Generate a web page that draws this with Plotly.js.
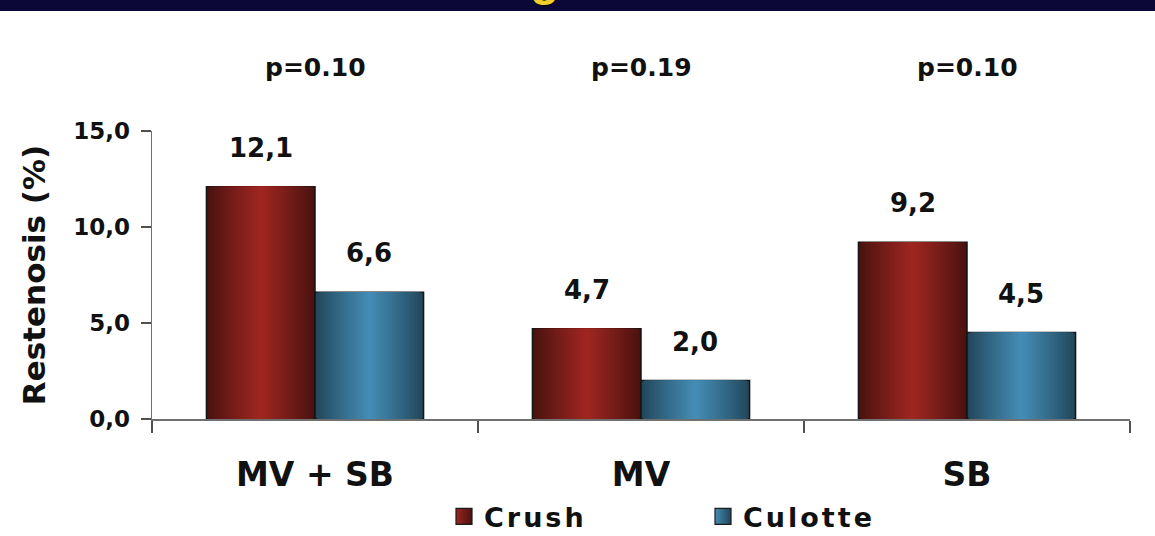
<!DOCTYPE html>
<html>
<head>
<meta charset="utf-8">
<script src="https://cdn.plot.ly/plotly-3.0.1.min.js"></script>
<style>
  html, body { margin: 0; padding: 0; background: #ffffff; }
  #chart { width: 1155px; height: 536px; }
  #chart .legendtext { letter-spacing: 3px; }
</style>
</head>
<body>
<div id="chart"></div>
<script>
// Restenosis rates by lesion segment, crush vs culotte technique
const categories = ['MV + SB', 'MV', 'SB'];
const crushValues = [12.1, 4.7, 9.2];
const culotteValues = [6.6, 2.0, 4.5];
const pValueLabels = ['p=0.10', 'p=0.19', 'p=0.10'];
const seriesNames = ['Crush', 'Culotte'];

// Styling: each bar is built from stacked, narrowing layers to give a
// horizontal cylinder-like shading (dark edges, bright centre).
const BAR_W = 0.333;           // bar width in category units
const LAYERS = 26;
const FONT = 'DejaVu Sans';
const shading = [
  { edge: [72, 18, 15], mid: [158, 38, 33] },   // crush
  { edge: [34, 70, 90], mid: [68, 140, 180] }   // culotte
];

function mix(a, b, t) {
  return 'rgb(' + a.map((v, i) => Math.round(v + (b[i] - v) * t)).join(',') + ')';
}

const seriesValues = [crushValues, culotteValues];
const baseOffsets = [-BAR_W, 0];
const traces = [];

seriesValues.forEach((vals, s) => {
  for (let k = 0; k < LAYERS; k++) {
    const frac = 1 - k / LAYERS;
    const w = BAR_W * frac;
    const t = Math.pow(k / (LAYERS - 1), 0.9);
    traces.push({
      type: 'bar',
      x: categories,
      y: vals,
      width: w,
      offset: baseOffsets[s] + (BAR_W - w) / 2,
      marker: {
        color: mix(shading[s].edge, shading[s].mid, t),
        line: { width: k === 0 ? 1.5 : 0, color: '#151515' }
      },
      showlegend: false,
      hoverinfo: 'skip'
    });
  }
});

// Legend entries
seriesNames.forEach((name, s) => {
  traces.push({
    type: 'scatter',
    mode: 'markers',
    x: [categories[0]],
    y: [null],
    name: name,
    marker: {
      symbol: 'square',
      size: 18,
      color: mix(shading[s].edge, shading[s].mid, 1),
      gradient: { type: 'horizontal', color: mix(shading[s].edge, shading[s].mid, 0) },
      line: { color: '#1b1b1b', width: 1.2 }
    },
    hoverinfo: 'skip'
  });
});

const fmt = v => v.toFixed(1).replace('.', ',');
const annotations = [];

// value labels above each bar
seriesValues.forEach((vals, s) => {
  vals.forEach((v, i) => {
    annotations.push({
      x: i + baseOffsets[s] + BAR_W / 2,
      y: v,
      xref: 'x', yref: 'y',
      text: fmt(v),
      showarrow: false,
      yanchor: 'bottom',
      yshift: 22,
      font: { family: FONT, size: 26, weight: 'bold', color: '#111111' }
    });
  });
});

// p-values over each group
pValueLabels.forEach((p, i) => {
  annotations.push({
    x: i, y: 1.222,
    xref: 'x', yref: 'paper',
    text: p,
    showarrow: false,
    yanchor: 'middle',
    font: { family: FONT, size: 25, weight: 'bold', color: '#111111' }
  });
});

// slide heading (mostly above the visible area)
annotations.push({
  x: (544 - 152) / 978, y: 1.455,
  xref: 'paper', yref: 'paper',
  text: 'g',
  showarrow: false,
  yanchor: 'top',
  yshift: 50,
  font: { family: 'Liberation Sans', size: 48, weight: 'bold', color: '#f2cf2a',
          shadow: '1px 1px 1px #000, -1px -1px 1px #000' }
});

const layout = {
  width: 1155,
  height: 536,
  margin: { l: 152, r: 25, t: 131, b: 117, autoexpand: false },
  paper_bgcolor: '#ffffff',
  plot_bgcolor: '#ffffff',
  separators: ', ',
  barmode: 'overlay',
  showlegend: true,
  legend: {
    orientation: 'h',
    x: (444 - 152) / 978,
    xanchor: 'left',
    y: -0.34,
    yanchor: 'middle',
    entrywidth: 214,
    font: { family: FONT, size: 27, weight: 'bold', color: '#111111' },
    bgcolor: 'rgba(0,0,0,0)'
  },
  xaxis: {
    type: 'category',
    range: [-0.5, 2.5],
    automargin: false,
    showline: true,
    linecolor: '#707070',
    linewidth: 1.5,
    ticks: 'outside',
    tickson: 'boundaries',
    ticklen: 12,
    tickcolor: '#505050',
    tickwidth: 1.5,
    ticklabelstandoff: 26,
    showgrid: false,
    zeroline: false,
    tickfont: { family: FONT, size: 33, weight: 'bold', color: '#111111' },
    fixedrange: true
  },
  yaxis: {
    range: [0, 15],
    dtick: 5,
    tick0: 0,
    tickformat: '.1f',
    automargin: false,
    showline: true,
    linecolor: '#707070',
    linewidth: 1.5,
    ticks: 'outside',
    ticklen: 10,
    tickcolor: '#505050',
    tickwidth: 1.5,
    ticklabelstandoff: 6,
    showgrid: false,
    zeroline: false,
    tickfont: { family: FONT, size: 23, weight: 'bold', color: '#111111' },
    title: {
      text: 'Restenosis (%)',
      standoff: 18,
      font: { family: FONT, size: 31, weight: 'bold', color: '#111111' }
    },
    fixedrange: true
  },
  shapes: [
    {
      type: 'rect', xref: 'paper', yref: 'paper',
      x0: -0.3, x1: 1.2, y0: (419 - 11) / 288, y1: 1.7,
      fillcolor: '#0b0838', line: { width: 0 }, layer: 'below'
    }
  ],
  annotations: annotations
};

Plotly.newPlot('chart', traces, layout, { displayModeBar: false, staticPlot: true });
</script>
</body>
</html>
